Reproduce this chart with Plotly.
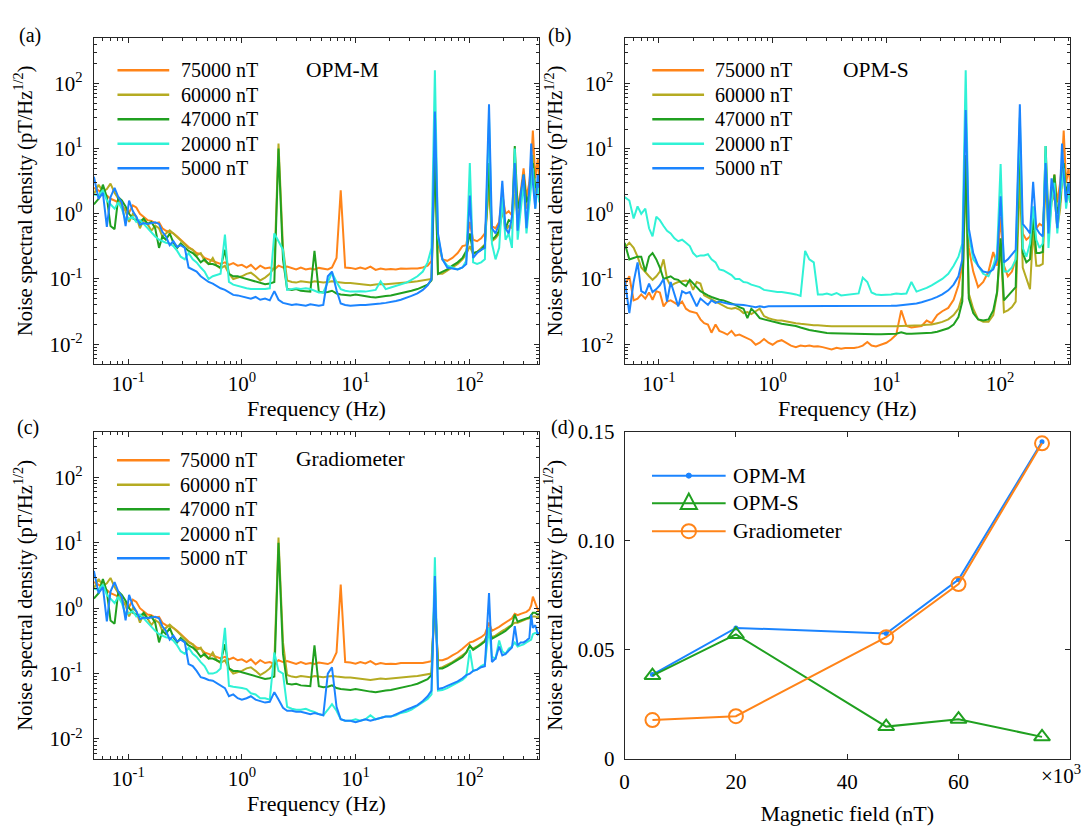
import math
import plotly.graph_objects as go

# ---------------------------------------------------------------------------
# Noise spectra of the three sensors at five bias fields
# ---------------------------------------------------------------------------
FREQ_HZ = [
    # 0.05 - 0.92 Hz
    0.050, 0.055, 0.060, 0.065, 0.070, 0.076, 0.082, 0.088, 0.095, 0.102,
    0.110, 0.118, 0.127, 0.137, 0.148, 0.160, 0.173, 0.187, 0.200, 0.215,
    0.232, 0.250, 0.270, 0.290, 0.315, 0.340, 0.370, 0.400, 0.435, 0.470,
    0.510, 0.555, 0.600, 0.650, 0.710, 0.770, 0.840, 0.920,
    # 1 - 46.5 Hz
    1.00, 1.10, 1.20, 1.32, 1.45, 1.60, 1.76, 1.93, 2.10, 2.30,
    2.50, 2.75, 3.00, 3.30, 3.65, 4.00, 4.35, 4.75, 5.20, 5.70,
    6.20, 6.80, 7.40, 8.10, 9.00, 10.0, 11.0, 12.2, 13.5, 15.0,
    16.6, 18.4, 20.4, 22.6, 25.0, 28.0, 31.0, 35.0, 39.0, 43.0, 46.5,
    # 50 - 412 Hz
    49.8, 53, 58, 64, 71, 79, 87, 94, 101, 108,
    117, 127, 137, 149, 158, 170, 183, 195, 208, 222,
    237, 251, 266, 283, 300, 318, 337, 350, 362, 380, 400, 412,
]

# --- OPM-M -----------------------------------------------------------------
OPMM_75000 = [
    2.5, 2.3, 2.1, 1.9, 1.7, 1.6, 1.5, 1.3, 1.15, 1.05,
    1.35, 1.25, 1.0, 0.88, 0.8, 0.78, 0.72, 0.74, 0.6, 0.55,
    0.52, 0.5, 0.45, 0.4, 0.36, 0.31, 0.28, 0.25, 0.24, 0.21,
    0.2, 0.19, 0.18, 0.17, 0.18, 0.165, 0.175, 0.16,
    0.165, 0.15, 0.165, 0.14, 0.16, 0.145, 0.15, 0.14, 0.16, 0.15,
    0.155, 0.145, 0.14, 0.15, 0.14, 0.145, 0.14, 0.148, 0.145, 0.14,
    0.15, 0.21, 2.3, 0.15, 0.148, 0.142, 0.15, 0.143, 0.155, 0.138,
    0.145, 0.14, 0.142, 0.14, 0.145, 0.143, 0.145, 0.145, 0.15, 0.16, 0.19,
    8.0, 0.35, 0.2, 0.19, 0.21, 0.25, 0.32, 0.33, 0.75, 0.4,
    0.38, 0.42, 0.5, 2.5, 0.65, 0.6, 0.75, 2.0, 1.0, 1.1,
    0.95, 3.0, 1.3, 2.2, 5.0, 1.8, 3.0, 6.0, 19.0, 3.5, 7.0, 3.0,
]
OPMM_60000 = [
    2.0, 2.8, 2.2, 2.4, 2.9, 2.1, 1.7, 1.4, 1.1, 0.75,
    1.0, 0.9, 0.6, 0.82, 0.7, 0.55, 0.66, 0.6, 0.45, 0.5,
    0.56, 0.5, 0.44, 0.4, 0.35, 0.3, 0.28, 0.23, 0.25, 0.19,
    0.17, 0.21, 0.16, 0.145, 0.16, 0.12, 0.1, 0.105,
    0.11, 0.12, 0.125, 0.11, 0.095, 0.105, 0.12, 0.15, 12.0, 0.3,
    0.095, 0.09, 0.088, 0.092, 0.09, 0.088, 0.092, 0.09, 0.088, 0.09,
    0.092, 0.09, 0.088, 0.087, 0.087, 0.085, 0.084, 0.082, 0.08, 0.082,
    0.084, 0.083, 0.084, 0.085, 0.087, 0.088, 0.09, 0.092, 0.095, 0.097, 0.1,
    12.0, 0.12, 0.12, 0.135, 0.15, 0.17, 0.2, 0.24, 0.32, 0.24,
    0.26, 0.3, 0.34, 3.2, 0.38, 0.42, 0.5, 1.2, 0.55, 0.65,
    0.6, 2.0, 0.9, 1.5, 3.5, 1.2, 1.6, 4.0, 8.0, 2.0, 3.0, 2.0,
]
OPMM_47000 = [
    1.4, 1.7, 2.8, 1.8, 0.65, 0.58, 1.8, 1.6, 1.3, 1.0,
    0.85, 0.8, 0.75, 0.85, 0.7, 0.75, 0.6, 0.3, 0.45, 0.4,
    0.5, 0.36, 0.3, 0.35, 0.3, 0.27, 0.25, 0.22, 0.18, 0.2,
    0.17, 0.17, 0.16, 0.15, 0.28, 0.12, 0.11, 0.11,
    0.105, 0.1, 0.095, 0.09, 0.086, 0.083, 0.085, 0.09, 10.0, 0.2,
    0.07, 0.068, 0.07, 0.066, 0.065, 0.064, 0.27, 0.064, 0.062, 0.063,
    0.066, 0.06, 0.058, 0.057, 0.056, 0.058, 0.056, 0.055, 0.053, 0.052,
    0.054, 0.055, 0.056, 0.058, 0.06, 0.063, 0.066, 0.07, 0.076, 0.082, 0.095,
    8.0, 0.12, 0.13, 0.14, 0.16, 0.18, 0.21, 0.27, 0.5, 0.25,
    0.26, 0.28, 0.33, 6.0, 0.4, 0.45, 0.55, 1.5, 0.6, 0.8,
    0.75, 11.0, 1.2, 1.8, 4.0, 1.5, 2.0, 4.5, 6.0, 2.5, 3.0, 1.8,
]
OPMM_20000 = [
    2.0, 1.9, 2.3, 1.6, 1.4, 1.2, 1.5, 1.2, 0.8, 0.85,
    0.9, 0.75, 0.8, 0.7, 0.6, 0.52, 0.45, 0.4, 0.38, 0.36,
    0.35, 0.32, 0.27, 0.22, 0.2, 0.25, 0.2, 0.18, 0.15, 0.13,
    0.1, 0.11, 0.115, 0.12, 0.48, 0.09, 0.082, 0.078,
    0.075, 0.072, 0.07, 0.07, 0.069, 0.07, 0.072, 0.5, 0.38, 0.28,
    0.068, 0.07, 0.072, 0.07, 0.072, 0.07, 0.066, 0.062, 0.062, 0.09,
    0.125, 0.09, 0.07, 0.066, 0.064, 0.064, 0.065, 0.064, 0.066, 0.068,
    0.092, 0.07, 0.074, 0.078, 0.083, 0.088, 0.097, 0.11, 0.13, 0.18, 0.3,
    160.0, 0.45, 0.2, 0.16, 0.15, 0.14, 0.15, 0.19, 6.0, 0.18,
    0.17, 0.18, 0.2, 30.0, 0.35, 0.2, 0.3, 1.8, 0.4, 0.5,
    0.3, 10.0, 0.4, 1.2, 3.0, 0.5, 1.5, 3.0, 5.0, 1.2, 3.0, 1.5,
]
OPMM_5000 = [
    3.7, 1.7, 2.1, 0.63, 1.8, 2.5, 1.8, 1.5, 0.65, 1.6,
    1.1, 0.9, 0.68, 0.72, 0.7, 0.72, 0.74, 0.7, 0.53, 0.45,
    0.33, 0.38, 0.31, 0.33, 0.3, 0.15, 0.14, 0.13, 0.11, 0.1,
    0.09, 0.085, 0.078, 0.072, 0.068, 0.062, 0.057, 0.056,
    0.054, 0.053, 0.05, 0.053, 0.048, 0.05, 0.047, 0.065, 0.048, 0.043,
    0.042, 0.04, 0.041, 0.04, 0.039, 0.041, 0.04, 0.039, 0.04, 0.11,
    0.13, 0.067, 0.042, 0.04, 0.039, 0.04, 0.04, 0.04, 0.041, 0.041,
    0.042, 0.043, 0.044, 0.046, 0.048, 0.051, 0.055, 0.06, 0.068, 0.08, 0.1,
    37.0, 0.5, 0.2, 0.15, 0.145, 0.14, 0.15, 0.17, 1.9, 0.21,
    0.25, 0.28, 0.3, 48.0, 0.6, 0.5, 0.7, 3.2, 0.6, 0.5,
    0.9, 6.0, 0.55, 2.0, 4.0, 0.6, 2.5, 12.0, 3.0, 1.2, 4.0, 2.5,
]

# --- OPM-S -----------------------------------------------------------------
OPMS_75000 = [
    0.08, 0.11, 0.047, 0.05, 0.058, 0.05, 0.062, 0.048, 0.065, 0.062,
    0.038, 0.045, 0.047, 0.043, 0.04, 0.045, 0.035, 0.032, 0.031, 0.03,
    0.024, 0.021, 0.02, 0.015, 0.02, 0.016, 0.015, 0.014, 0.016, 0.0135,
    0.014, 0.013, 0.012, 0.0115, 0.0098, 0.0105, 0.012, 0.0105,
    0.0098, 0.011, 0.0115, 0.0105, 0.0095, 0.009, 0.0095, 0.0093, 0.0095, 0.0092,
    0.0093, 0.009, 0.0087, 0.0083, 0.0088, 0.0085, 0.0087, 0.0086, 0.0087, 0.009,
    0.0095, 0.0108, 0.0095, 0.0092, 0.0098, 0.0105, 0.0118, 0.014, 0.033, 0.019,
    0.018, 0.0185, 0.019, 0.023, 0.021, 0.028, 0.032, 0.036, 0.048, 0.08, 0.16,
    8.0, 0.3, 0.13, 0.075, 0.09, 0.13, 0.26, 0.16, 0.9, 0.16,
    0.11, 0.13, 0.2, 8.0, 0.5, 0.4, 0.45, 0.75, 0.6, 0.7,
    0.65, 2.3, 0.9, 2.0, 4.0, 1.5, 3.0, 6.0, 19.0, 3.0, 5.0, 3.0,
]
OPMS_60000 = [
    0.3, 0.36, 0.3, 0.22, 0.15, 0.125, 0.11, 0.097, 0.11, 0.13,
    0.2, 0.1, 0.078, 0.085, 0.09, 0.092, 0.095, 0.09, 0.068, 0.09,
    0.085, 0.056, 0.052, 0.048, 0.045, 0.042, 0.038, 0.036, 0.035, 0.036,
    0.034, 0.03, 0.031, 0.029, 0.032, 0.035, 0.027, 0.025,
    0.024, 0.023, 0.023, 0.0225, 0.022, 0.021, 0.0205, 0.02, 0.02, 0.0195,
    0.0195, 0.019, 0.019, 0.0188, 0.0188, 0.0187, 0.0188, 0.0187, 0.0187, 0.0186,
    0.0186, 0.0185, 0.0185, 0.0185, 0.0185, 0.0186, 0.0187, 0.0188, 0.019, 0.019,
    0.0192, 0.0193, 0.0195, 0.0198, 0.02, 0.021, 0.022, 0.024, 0.028, 0.035, 0.055,
    4.0, 0.06, 0.035, 0.024, 0.022, 0.022, 0.028, 0.06, 0.35, 0.031,
    0.033, 0.037, 0.045, 3.7, 0.15, 0.1, 0.07, 0.55, 0.16, 0.16,
    0.17, 4.2, 0.5, 1.5, 2.0, 0.6, 1.2, 3.0, 5.0, 1.5, 2.5, 1.5,
]
OPMS_47000 = [
    0.36, 0.2, 0.21, 0.22, 0.22, 0.13, 0.22, 0.25, 0.2, 0.15,
    0.1, 0.105, 0.11, 0.1, 0.097, 0.085, 0.078, 0.097, 0.087, 0.075,
    0.065, 0.06, 0.056, 0.053, 0.05, 0.048, 0.047, 0.045, 0.042, 0.04,
    0.037, 0.035, 0.025, 0.035, 0.03, 0.025, 0.024, 0.023,
    0.022, 0.021, 0.0205, 0.02, 0.0195, 0.019, 0.018, 0.017, 0.0165, 0.016,
    0.0155, 0.015, 0.0148, 0.0147, 0.0146, 0.0145, 0.0145, 0.0144, 0.0144, 0.0143,
    0.0143, 0.0142, 0.0142, 0.0142, 0.0142, 0.0142, 0.0143, 0.0145, 0.0152, 0.0144,
    0.0145, 0.0146, 0.0147, 0.0148, 0.015, 0.0155, 0.0162, 0.0175, 0.02, 0.026, 0.045,
    8.0, 0.05, 0.03, 0.024, 0.023, 0.024, 0.033, 0.063, 0.42, 0.047,
    0.055, 0.065, 0.075, 17.0, 0.25, 0.18, 0.2, 0.9, 0.25, 0.25,
    0.26, 11.0, 0.8, 2.0, 4.0, 1.0, 1.5, 4.0, 6.0, 2.0, 3.0, 1.5,
]
OPMS_20000 = [
    1.8, 1.6, 0.85, 1.3, 1.0, 1.2, 0.6, 0.45, 0.9, 0.8,
    0.65, 0.55, 0.5, 0.42, 0.38, 0.4, 0.36, 0.32, 0.25, 0.22,
    0.23, 0.23, 0.24, 0.2, 0.18, 0.14, 0.135, 0.125, 0.115, 0.1,
    0.1, 0.09, 0.088, 0.082, 0.078, 0.075, 0.068, 0.066,
    0.065, 0.063, 0.063, 0.062, 0.06, 0.058, 0.055, 0.27, 0.2, 0.18,
    0.058, 0.058, 0.06, 0.057, 0.061, 0.056, 0.057, 0.057, 0.058, 0.06,
    0.105, 0.09, 0.062, 0.058, 0.057, 0.057, 0.058, 0.06, 0.059, 0.06,
    0.09, 0.064, 0.068, 0.073, 0.08, 0.09, 0.1, 0.12, 0.16, 0.22, 0.35,
    160.0, 0.5, 0.2, 0.16, 0.12, 0.11, 0.16, 0.25, 5.8, 0.13,
    0.13, 0.15, 0.2, 30.0, 0.3, 0.22, 0.35, 1.3, 0.4, 0.3,
    0.35, 11.0, 0.3, 1.5, 3.0, 0.5, 1.8, 3.0, 5.0, 1.2, 2.5, 1.5,
]
OPMS_5000 = [
    0.1, 0.03, 0.09, 0.18, 0.065, 0.06, 0.085, 0.063, 0.07, 0.08,
    0.1, 0.045, 0.09, 0.06, 0.038, 0.065, 0.06, 0.063, 0.05, 0.038,
    0.05, 0.045, 0.04, 0.047, 0.043, 0.045, 0.043, 0.042, 0.041, 0.041,
    0.04, 0.04, 0.039, 0.038, 0.037, 0.038, 0.037, 0.038,
    0.038, 0.038, 0.038, 0.0378, 0.0378, 0.0378, 0.0378, 0.0378, 0.0378, 0.0378,
    0.0378, 0.0378, 0.0378, 0.0378, 0.0378, 0.0378, 0.0378, 0.0378, 0.0379, 0.038,
    0.038, 0.038, 0.038, 0.0381, 0.0382, 0.0384, 0.0387, 0.039, 0.0395, 0.04,
    0.041, 0.042, 0.044, 0.046, 0.049, 0.053, 0.058, 0.067, 0.082, 0.11, 0.2,
    39.0, 0.6, 0.25, 0.16, 0.13, 0.125, 0.14, 0.2, 1.85, 0.18,
    0.2, 0.24, 0.28, 48.0, 0.7, 0.6, 0.5, 3.1, 0.6, 0.5,
    0.45, 6.0, 0.5, 3.5, 2.0, 0.6, 2.5, 12.0, 4.0, 1.5, 3.0, 2.0,
]

# --- Gradiometer -----------------------------------------------------------
GRAD_75000 = [
    2.5, 2.3, 2.1, 1.9, 1.7, 1.6, 1.5, 1.3, 1.15, 1.05,
    1.35, 1.25, 1.0, 0.88, 0.8, 0.78, 0.72, 0.74, 0.6, 0.55,
    0.52, 0.5, 0.45, 0.4, 0.36, 0.31, 0.28, 0.25, 0.24, 0.21,
    0.2, 0.19, 0.18, 0.17, 0.18, 0.165, 0.175, 0.16,
    0.165, 0.15, 0.165, 0.14, 0.16, 0.145, 0.15, 0.14, 0.16, 0.15,
    0.155, 0.145, 0.14, 0.15, 0.14, 0.145, 0.14, 0.148, 0.145, 0.14,
    0.15, 0.21, 2.3, 0.15, 0.148, 0.142, 0.15, 0.143, 0.155, 0.138,
    0.145, 0.14, 0.142, 0.14, 0.145, 0.143, 0.145, 0.145, 0.145, 0.15, 0.155,
    1.2, 0.16, 0.16, 0.17, 0.19, 0.21, 0.24, 0.27, 0.3, 0.31,
    0.33, 0.36, 0.4, 0.6, 0.45, 0.48, 0.52, 0.56, 0.6, 0.65,
    0.7, 0.82, 0.78, 0.82, 0.85, 0.88, 0.95, 1.1, 1.5, 1.2, 0.95, 0.9,
]
GRAD_60000 = [
    2.0, 2.8, 2.2, 2.4, 2.9, 2.1, 1.7, 1.4, 1.1, 0.75,
    1.0, 0.9, 0.6, 0.82, 0.7, 0.55, 0.66, 0.6, 0.45, 0.5,
    0.56, 0.5, 0.44, 0.4, 0.35, 0.3, 0.28, 0.23, 0.25, 0.19,
    0.17, 0.21, 0.16, 0.145, 0.16, 0.12, 0.1, 0.105,
    0.11, 0.12, 0.125, 0.11, 0.095, 0.105, 0.12, 0.15, 12.0, 0.3,
    0.095, 0.09, 0.088, 0.092, 0.09, 0.088, 0.092, 0.09, 0.088, 0.09,
    0.092, 0.09, 0.088, 0.087, 0.087, 0.085, 0.084, 0.082, 0.08, 0.082,
    0.084, 0.083, 0.084, 0.085, 0.087, 0.088, 0.09, 0.092, 0.095, 0.097, 0.1,
    1.5, 0.12, 0.125, 0.135, 0.15, 0.17, 0.19, 0.21, 0.26, 0.24,
    0.26, 0.29, 0.32, 0.45, 0.36, 0.38, 0.42, 0.45, 0.48, 0.52,
    0.55, 0.6, 0.6, 0.63, 0.65, 0.68, 0.7, 0.72, 0.75, 0.75, 0.72, 0.75,
]
GRAD_47000 = [
    1.4, 1.7, 2.8, 1.8, 0.65, 0.58, 1.8, 1.6, 1.3, 1.0,
    0.85, 0.8, 0.75, 0.85, 0.7, 0.75, 0.6, 0.3, 0.45, 0.4,
    0.5, 0.36, 0.3, 0.35, 0.3, 0.27, 0.25, 0.22, 0.18, 0.2,
    0.17, 0.17, 0.16, 0.15, 0.28, 0.12, 0.11, 0.11,
    0.105, 0.1, 0.095, 0.09, 0.086, 0.083, 0.085, 0.09, 10.0, 0.2,
    0.07, 0.068, 0.07, 0.066, 0.065, 0.064, 0.27, 0.064, 0.062, 0.063,
    0.066, 0.06, 0.058, 0.057, 0.056, 0.058, 0.056, 0.055, 0.053, 0.052,
    0.054, 0.055, 0.056, 0.058, 0.06, 0.063, 0.066, 0.07, 0.076, 0.082, 0.095,
    2.0, 0.12, 0.12, 0.13, 0.145, 0.16, 0.18, 0.21, 0.27, 0.23,
    0.25, 0.28, 0.31, 0.5, 0.34, 0.37, 0.4, 0.42, 0.45, 0.5,
    0.55, 0.8, 0.62, 0.65, 0.68, 0.7, 0.72, 0.8, 0.85, 0.85, 0.8, 0.82,
]
GRAD_20000 = [
    2.0, 1.9, 2.3, 1.6, 1.4, 1.2, 1.5, 1.2, 0.8, 0.85,
    0.9, 0.75, 0.8, 0.7, 0.6, 0.52, 0.45, 0.4, 0.38, 0.36,
    0.35, 0.32, 0.27, 0.22, 0.2, 0.25, 0.2, 0.18, 0.15, 0.13,
    0.1, 0.1, 0.105, 0.12, 0.5, 0.065, 0.063, 0.062,
    0.06, 0.058, 0.05, 0.048, 0.042, 0.042, 0.04, 0.21, 0.11, 0.1,
    0.031, 0.029, 0.028, 0.028, 0.029, 0.027, 0.026, 0.024, 0.023, 0.028,
    0.034, 0.027, 0.02, 0.019, 0.019, 0.02, 0.019, 0.02, 0.023, 0.02,
    0.021, 0.022, 0.022, 0.023, 0.025, 0.026, 0.028, 0.032, 0.036, 0.041, 0.048,
    6.0, 0.055, 0.056, 0.06, 0.066, 0.072, 0.08, 0.09, 0.23, 0.11,
    0.115, 0.13, 0.14, 0.5, 0.18, 0.17, 0.32, 0.22, 0.2, 0.24,
    0.26, 0.3, 0.26, 0.27, 0.28, 0.3, 0.32, 0.33, 0.4, 0.42, 0.4, 0.4,
]
GRAD_5000 = [
    3.7, 1.7, 2.1, 0.63, 1.8, 2.5, 1.8, 1.5, 0.65, 1.6,
    1.1, 0.9, 0.68, 0.72, 0.7, 0.72, 0.74, 0.7, 0.53, 0.45,
    0.33, 0.38, 0.31, 0.33, 0.3, 0.14, 0.13, 0.11, 0.088, 0.085,
    0.08, 0.078, 0.072, 0.065, 0.06, 0.045, 0.048, 0.042,
    0.04, 0.042, 0.045, 0.04, 0.038, 0.036, 0.037, 0.052, 0.04, 0.03,
    0.027, 0.027, 0.026, 0.026, 0.025, 0.024, 0.025, 0.024, 0.023, 0.1,
    0.125, 0.031, 0.02, 0.019, 0.019, 0.018, 0.019, 0.02, 0.019, 0.02,
    0.021, 0.022, 0.022, 0.024, 0.026, 0.028, 0.03, 0.033, 0.038, 0.045, 0.055,
    3.1, 0.058, 0.06, 0.065, 0.07, 0.076, 0.085, 0.095, 0.1, 0.11,
    0.115, 0.125, 0.13, 1.7, 0.15, 0.17, 0.26, 0.19, 0.2, 0.22,
    0.25, 0.53, 0.27, 0.3, 0.3, 0.32, 0.35, 0.8, 0.5, 0.55, 0.4, 0.42,
]

FIELD_LABELS = ["75000 nT", "60000 nT", "47000 nT", "20000 nT", "5000 nT"]

# --- Summary: noise floor versus bias field ------------------------------
FIELD_NT = [5000, 20000, 47000, 60000, 75000]
FLOOR_OPM_M = [0.0386, 0.0600, 0.0574, 0.0822, 0.1454]
FLOOR_OPM_S = [0.0381, 0.0570, 0.0147, 0.0181, 0.0100]
FLOOR_GRAD = [0.0177, 0.0195, 0.0557, 0.0801, 0.1447]

X_TICK_VALS = [0.1, 1, 10, 100]
X_TICK_TEXT = ["10<sup>-1</sup>", "10<sup>0</sup>", "10<sup>1</sup>", "10<sup>2</sup>"]
Y_TICK_VALS = [0.01, 0.1, 1, 10, 100]
Y_TICK_TEXT = ["10<sup>-2</sup>", "10<sup>-1</sup>", "10<sup>0</sup>",
               "10<sup>1</sup>", "10<sup>2</sup>"]
FIELD_TICK_VALS = [0, 20000, 40000, 60000]
FIELD_TICK_TEXT = ["0", "20", "40", "60"]
FLOOR_TICK_VALS = [0, 0.05, 0.10, 0.15]
FLOOR_TICK_TEXT = ["0", "0.05", "0.10", "0.15"]

# ---------------------------------------------------------------------------
# Styling
# ---------------------------------------------------------------------------
W, H = 1081, 826
FONT = "Liberation Serif, Times New Roman, serif"
AX = "#262626"
LINE_COLORS = ["#FF8419", "#B5AB22", "#20A020", "#30F2D6", "#1B84FF"]
C_BLUE, C_GREEN, C_ORANGE = "#1B84FF", "#20A020", "#FF8419"
NSD_TITLE = "Noise spectral density (pT/Hz<sup>1/2</sup>)"
TICK_SIZE = 21
XTITLE_SIZE = 22
YTITLE_SIZE = 20.5

for name, series in [("OPMM_75000", OPMM_75000), ("OPMM_60000", OPMM_60000),
                     ("OPMM_47000", OPMM_47000), ("OPMM_20000", OPMM_20000),
                     ("OPMM_5000", OPMM_5000), ("OPMS_75000", OPMS_75000),
                     ("OPMS_60000", OPMS_60000), ("OPMS_47000", OPMS_47000),
                     ("OPMS_20000", OPMS_20000), ("OPMS_5000", OPMS_5000),
                     ("GRAD_75000", GRAD_75000), ("GRAD_60000", GRAD_60000),
                     ("GRAD_47000", GRAD_47000), ("GRAD_20000", GRAD_20000),
                     ("GRAD_5000", GRAD_5000)]:
    if len(series) != len(FREQ_HZ):
        raise ValueError(f"{name}: {len(series)} values, {len(FREQ_HZ)} frequencies")


def fx(px):
    return px / W


def fy(py):
    return 1 - py / H


X_LEFT = [fx(89.3), fx(536.5)]
X_RIGHT = [fx(622.5), fx(1069.8)]
Y_TOP = [fy(362.3), fy(26.7)]
Y_BOTTOM = [fy(769.0), fy(432.3)]

F_RANGE = [math.log10(0.05), math.log10(410)]
S_RANGE = [math.log10(0.005), math.log10(500)]


def log_minor(lo, hi):
    return [m * 10 ** e for e in range(lo, hi) for m in range(2, 10)]


def frame(**kw):
    base = dict(showline=True, linecolor=AX, linewidth=1, mirror="allticks",
                ticks="inside", ticklen=5, tickwidth=1, tickcolor=AX,
                showgrid=False, zeroline=False,
                tickfont=dict(family=FONT, size=TICK_SIZE, color="black"))
    base.update(kw)
    return base


def freq_axis(domain, anchor):
    return frame(type="log", domain=domain, anchor=anchor, range=F_RANGE,
                 tickmode="array", tickvals=X_TICK_VALS, ticktext=X_TICK_TEXT,
                 ticklabelstandoff=1,
                 minor=dict(tickmode="array", tickvals=log_minor(-2, 3),
                            ticks="inside", ticklen=3, tickcolor=AX, showgrid=False),
                 title=dict(text="Frequency (Hz)", standoff=1,
                            font=dict(family=FONT, size=XTITLE_SIZE, color="black")))


def nsd_axis(domain, anchor):
    return frame(type="log", domain=domain, anchor=anchor, range=S_RANGE,
                 tickmode="array", tickvals=Y_TICK_VALS, ticktext=Y_TICK_TEXT,
                 ticklabelstandoff=6,
                 minor=dict(tickmode="array", tickvals=log_minor(-3, 3),
                            ticks="inside", ticklen=3, tickcolor=AX, showgrid=False),
                 title=dict(text=NSD_TITLE, standoff=11,
                            font=dict(family=FONT, size=YTITLE_SIZE, color="black")))


fig = go.Figure()

SPECTRA = [
    ("x", "y", [OPMM_75000, OPMM_60000, OPMM_47000, OPMM_20000, OPMM_5000]),
    ("x2", "y2", [OPMS_75000, OPMS_60000, OPMS_47000, OPMS_20000, OPMS_5000]),
    ("x3", "y3", [GRAD_75000, GRAD_60000, GRAD_47000, GRAD_20000, GRAD_5000]),
]
for xa, ya, group in SPECTRA:
    for label, values, color in zip(FIELD_LABELS, group, LINE_COLORS):
        fig.add_trace(go.Scatter(
            x=FREQ_HZ, y=values, mode="lines", name=label,
            line=dict(color=color, width=2), xaxis=xa, yaxis=ya,
            showlegend=False))

fig.add_trace(go.Scatter(
    x=FIELD_NT, y=FLOOR_OPM_M, mode="lines+markers", name="OPM-M",
    line=dict(color=C_BLUE, width=2), marker=dict(symbol="circle", size=5, color=C_BLUE),
    xaxis="x4", yaxis="y4", showlegend=False))
fig.add_trace(go.Scatter(
    x=FIELD_NT, y=FLOOR_OPM_S, mode="lines+markers", name="OPM-S",
    line=dict(color=C_GREEN, width=2),
    marker=dict(symbol="triangle-up-open", size=14, color=C_GREEN, line=dict(width=2)),
    xaxis="x4", yaxis="y4", showlegend=False))
fig.add_trace(go.Scatter(
    x=FIELD_NT, y=FLOOR_GRAD, mode="lines+markers", name="Gradiometer",
    line=dict(color=C_ORANGE, width=2),
    marker=dict(symbol="circle-open", size=14, color=C_ORANGE, line=dict(width=2)),
    xaxis="x4", yaxis="y4", showlegend=False))

# ---------------------------------------------------------------------------
# Legend keys, panel tags and instrument names
# ---------------------------------------------------------------------------
shapes = []
annotations = []


def text_at(x, y, text, size=20, xanchor="left"):
    annotations.append(dict(
        x=fx(x), y=fy(y), xref="paper", yref="paper", text=text, showarrow=False,
        xanchor=xanchor, yanchor="middle", font=dict(family=FONT, size=size, color="black")))


def spectra_key(x0, x1, xt, y0, step):
    for i, (label, color) in enumerate(zip(FIELD_LABELS, LINE_COLORS)):
        y = y0 + i * step
        shapes.append(dict(type="line", xref="paper", yref="paper",
                           x0=fx(x0), x1=fx(x1), y0=fy(y), y1=fy(y),
                           line=dict(color=color, width=2.5)))
        text_at(xt, y, label, size=20)


spectra_key(113, 165, 175.0, 60.0, 25.2)
spectra_key(650.3, 702.3, 711.0, 60.0, 25.2)
spectra_key(112.5, 165.5, 174.0, 461.7, 25.2)

# summary legend
key_rows = [477.5, 506.0, 534.7]
key_x0, key_x1, key_mid, key_text = 650, 724, 687, 729.0
for y, color, label in zip(key_rows, [C_BLUE, C_GREEN, C_ORANGE],
                           ["OPM-M", "OPM-S", "Gradiometer"]):
    shapes.append(dict(type="line", xref="paper", yref="paper",
                       x0=fx(key_x0), x1=fx(key_x1), y0=fy(y), y1=fy(y),
                       line=dict(color=color, width=2)))
    text_at(key_text, y, label, size=21.5)
r = 2.6
shapes.append(dict(type="circle", xref="paper", yref="paper",
                   x0=fx(key_mid - r), x1=fx(key_mid + r),
                   y0=fy(key_rows[0] + r), y1=fy(key_rows[0] - r),
                   fillcolor=C_BLUE, line=dict(color=C_BLUE, width=1)))
ty = key_rows[1]
shapes.append(dict(type="path", xref="paper", yref="paper",
                   path=(f"M{fx(key_mid)},{fy(ty - 10)} L{fx(key_mid - 8.2)},{fy(ty + 6)} "
                         f"L{fx(key_mid + 8.2)},{fy(ty + 6)} Z"),
                   fillcolor="rgba(0,0,0,0)", line=dict(color=C_GREEN, width=2)))
r = 7.2
shapes.append(dict(type="circle", xref="paper", yref="paper",
                   x0=fx(key_mid - r), x1=fx(key_mid + r),
                   y0=fy(key_rows[2] + r), y1=fy(key_rows[2] - r),
                   fillcolor="rgba(0,0,0,0)", line=dict(color=C_ORANGE, width=2)))

text_at(338.6, 60, "OPM-M", size=21.5, xanchor="center")
text_at(874.6, 60, "OPM-S", size=21.5, xanchor="center")
text_at(347.0, 460.7, "Gradiometer", size=21.5, xanchor="center")

text_at(25, 24.5, "(a)", size=20, xanchor="center")
text_at(557, 24.5, "(b)", size=20, xanchor="center")
text_at(23, 428, "(c)", size=20, xanchor="center")
text_at(560, 428, "(d)", size=20, xanchor="center")
text_at(1039, 785, "×10<sup>3</sup>", size=21)

fig.update_layout(
    width=W, height=H,
    margin=dict(l=0, r=0, t=0, b=0),
    paper_bgcolor="white", plot_bgcolor="white",
    showlegend=False,
    font=dict(family=FONT, size=20, color="black"),
    xaxis=freq_axis(X_LEFT, "y"),
    yaxis=nsd_axis(Y_TOP, "x"),
    xaxis2=freq_axis(X_RIGHT, "y2"),
    yaxis2=nsd_axis(Y_TOP, "x2"),
    xaxis3=freq_axis(X_LEFT, "y3"),
    yaxis3=nsd_axis(Y_BOTTOM, "x3"),
    xaxis4=frame(domain=X_RIGHT, anchor="y4", range=[0, 80000],
                 tickmode="array", tickvals=FIELD_TICK_VALS, ticktext=FIELD_TICK_TEXT,
                 ticklabelstandoff=4,
                 title=dict(text="Magnetic field (nT)", standoff=12,
                            font=dict(family=FONT, size=XTITLE_SIZE, color="black"))),
    yaxis4=frame(domain=Y_BOTTOM, anchor="x4", range=[0, 0.15],
                 tickmode="array", tickvals=FLOOR_TICK_VALS, ticktext=FLOOR_TICK_TEXT,
                 ticklabelstandoff=5,
                 title=dict(text=NSD_TITLE, standoff=9,
                            font=dict(family=FONT, size=YTITLE_SIZE, color="black"))),
    shapes=shapes,
    annotations=annotations,
)

fig.write_html("out.html")
